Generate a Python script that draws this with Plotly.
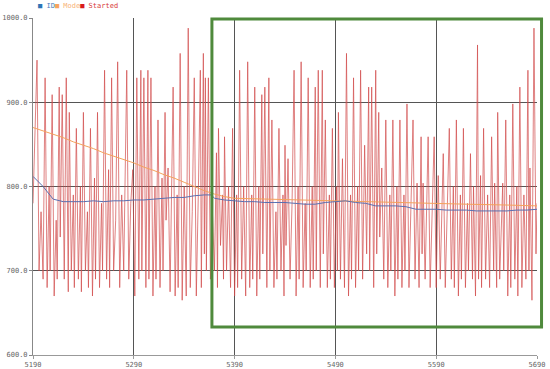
import plotly.graph_objects as go

# x ticks / y ticks
x_ticks = [5190, 5290, 5390, 5490, 5590, 5690]
y_ticks = [600, 700, 800, 900, 1000]

# "ID" series
id_x = [5190, 5200, 5210, 5220, 5230, 5240, 5250, 5260, 5270, 5280, 5290, 5300, 5310, 5320,
        5330, 5340, 5350, 5360, 5367, 5370, 5380, 5390, 5400, 5410, 5420, 5430, 5440, 5450,
        5460, 5470, 5480, 5490, 5500, 5510, 5520, 5530, 5540, 5550, 5560, 5570, 5580, 5590,
        5600, 5610, 5620, 5630, 5640, 5650, 5660, 5670, 5680, 5690]
id_y = [812, 800, 785, 782, 782, 782, 783, 782, 783, 783, 784, 784, 785, 786,
        787, 787, 789, 790, 790, 786, 784, 783, 782, 782, 781, 781, 781, 780,
        779, 779, 781, 782, 783, 781, 780, 777, 777, 777, 776, 773, 773, 773,
        772, 772, 772, 771, 771, 771, 771, 772, 772, 773]

# "Mode" series
mode_x = [5190, 5200, 5210, 5220, 5230, 5240, 5250, 5260, 5270, 5280, 5290, 5300, 5310, 5320,
          5330, 5340, 5350, 5360, 5370, 5380, 5390, 5420, 5460, 5500, 5540, 5580, 5620, 5660, 5690]
mode_y = [870, 866, 862, 858, 853, 849, 845, 840, 836, 832, 828, 823, 819, 814,
          810, 805, 800, 795, 791, 788, 786, 785, 784, 783, 781, 780, 779, 778, 777]

# "Started" series
started_x = [
    5190, 5194, 5196, 5198, 5200, 5202, 5204, 5206, 5207, 5209, 5211, 5213, 5214, 5216, 5217,
    5219, 5221, 5223, 5225, 5226, 5228, 5230, 5231, 5233, 5235, 5237, 5238, 5240, 5242, 5244,
    5245, 5247, 5249, 5251, 5252, 5254, 5256, 5258, 5259, 5261, 5263, 5265, 5266, 5268, 5270,
    5272, 5274, 5276, 5278, 5280, 5283, 5285, 5287, 5289, 5291, 5293, 5295, 5297, 5298, 5300,
    5302, 5304, 5305, 5307, 5309, 5311, 5312, 5314, 5316, 5318, 5319, 5321, 5322, 5324, 5326,
    5329, 5331, 5333, 5334, 5336, 5338, 5340, 5342, 5344, 5346, 5348, 5350, 5352, 5354, 5356,
    5357, 5359, 5360, 5361, 5362, 5364, 5366, 5368, 5370, 5372, 5373, 5374, 5376, 5378, 5379,
    5380, 5382, 5384, 5386, 5388, 5390, 5392, 5393, 5395, 5397, 5399, 5401, 5403, 5405, 5407,
    5408, 5410, 5412, 5414, 5415, 5417, 5418, 5420, 5422, 5424, 5425, 5427, 5429, 5431, 5432,
    5434, 5436, 5438, 5439, 5440, 5441, 5443, 5445, 5447, 5449, 5451, 5453, 5454, 5456, 5458,
    5460, 5461, 5463, 5465, 5467, 5468, 5470, 5471, 5473, 5475, 5477, 5478, 5480, 5482, 5484,
    5485, 5487, 5489, 5491, 5492, 5493, 5495, 5497, 5499, 5501, 5503, 5505, 5506, 5508, 5510,
    5512, 5513, 5515, 5517, 5519, 5521, 5523, 5524, 5526, 5528, 5530, 5531, 5533, 5534, 5536,
    5538, 5540, 5542, 5544, 5545, 5547, 5549, 5551, 5552, 5554, 5556, 5558, 5559, 5561, 5563,
    5565, 5567, 5569, 5571, 5573, 5575, 5576, 5577, 5579, 5582, 5584, 5586, 5588, 5590, 5592,
    5594, 5597, 5599, 5601, 5603, 5605, 5607, 5608, 5610, 5612, 5614, 5615, 5617, 5619, 5621,
    5622, 5624, 5626, 5627, 5629, 5631, 5632, 5634, 5635, 5637, 5639, 5641, 5643, 5645, 5647,
    5648, 5650, 5651, 5653, 5656, 5657, 5659, 5661, 5663, 5664, 5666, 5668, 5670, 5671, 5673,
    5675, 5677, 5679, 5681, 5682, 5683, 5685, 5687, 5689, 5690]
started_y = [
    780, 950, 700, 770, 690, 929, 680, 800, 700, 909, 670, 760, 690, 918, 740,
    909, 690, 929, 675, 888, 700, 790, 680, 869, 690, 800, 675, 888, 700, 770,
    680, 869, 670, 810, 690, 888, 680, 780, 700, 938, 690, 820, 680, 929, 700,
    760, 948, 680, 790, 700, 938, 690, 780, 820, 670, 929, 690, 938, 700, 929,
    680, 938, 690, 929, 670, 800, 690, 879, 680, 810, 700, 888, 760, 822, 675,
    918, 670, 790, 680, 958, 665, 800, 670, 988, 680, 770, 929, 670, 790, 938,
    680, 958, 720, 929, 700, 929, 690, 770, 700, 840, 680, 869, 730, 790, 690,
    859, 700, 800, 680, 869, 670, 790, 680, 938, 690, 800, 670, 948, 680, 790,
    690, 918, 670, 800, 690, 909, 720, 918, 680, 929, 700, 879, 680, 770, 690,
    869, 700, 790, 670, 849, 730, 833, 690, 780, 938, 670, 800, 690, 948, 680,
    780, 700, 929, 680, 800, 690, 918, 700, 938, 680, 938, 720, 879, 680, 790,
    690, 869, 680, 800, 700, 888, 690, 833, 680, 958, 670, 790, 690, 929, 680,
    800, 700, 938, 690, 849, 720, 918, 700, 918, 680, 938, 720, 888, 740, 822,
    690, 879, 680, 790, 700, 879, 670, 800, 690, 879, 680, 790, 700, 898, 680,
    780, 879, 690, 804, 680, 859, 720, 804, 690, 859, 680, 790, 859, 680, 813,
    690, 839, 680, 780, 869, 690, 800, 680, 879, 670, 790, 690, 869, 680, 780,
    700, 839, 690, 800, 670, 968, 690, 813, 680, 869, 690, 790, 680, 859, 700,
    804, 680, 888, 690, 804, 700, 879, 670, 790, 680, 898, 690, 800, 670, 918,
    680, 790, 690, 938, 700, 822, 665, 988, 720, 780]

fig = go.Figure()

fig.add_trace(go.Scatter(x=started_x, y=started_y, mode="lines", name="Started",
                         line=dict(color="rgba(210,75,75,0.7)", width=1)))
fig.add_trace(go.Scatter(x=mode_x, y=mode_y, mode="lines", name="Mode",
                         line=dict(color="#f4a25c", width=1)))
fig.add_trace(go.Scatter(x=id_x, y=id_y, mode="lines", name="ID",
                         line=dict(color="#5a6fb0", width=1)))

# legend drawn as a single line of coloured text
legend_txt = ('<span style="color:#2e75b6">■</span><span style="color:#4a7fc0"> ID</span>'
              '<span style="color:#f7a35c">■</span><span style="color:#f7b27a"> Mode</span>'
              '<span style="color:#d81b1b">■</span><span style="color:#d83a3a"> Started</span>')
fig.add_annotation(text=legend_txt, xref="paper", yref="paper", x=0.008, y=1.05,
                   xanchor="left", yanchor="top", showarrow=False, borderpad=0,
                   font=dict(family="DejaVu Sans Mono", size=7))

# green selection box
fig.add_shape(type="rect", xref="paper", yref="paper", x0=0.355, x1=1.009, y0=0.083, y1=0.997,
              line=dict(color="#4f8a3c", width=3), fillcolor="rgba(0,0,0,0)")

fig.update_layout(
    width=550, height=369,
    margin=dict(l=33, r=13, t=18, b=14),
    paper_bgcolor="white", plot_bgcolor="white",
    showlegend=False,
    font=dict(family="DejaVu Sans Mono", size=7, color="#666"),
)
fig.update_xaxes(range=[5190, 5690], tickvals=x_ticks, ticktext=[str(v) for v in x_ticks],
                 showgrid=True, gridcolor="#555", gridwidth=1, zeroline=False, automargin=False,
                 showline=True, linecolor="#999", ticks="outside", ticklen=3, tickcolor="#999")
fig.update_yaxes(range=[600, 1000], tickvals=y_ticks, ticktext=[f"{v:.1f}" for v in y_ticks],
                 showgrid=True, gridcolor="#555", gridwidth=1, zeroline=False, automargin=False,
                 showline=True, linecolor="#888", ticks="outside", ticklen=3, tickcolor="#888")

# drop the browser's default body margin so the figure sits at the page corner
fig.write_html("out.html", config={"displayModeBar": False},
               post_script="document.body.style.margin='0';")
